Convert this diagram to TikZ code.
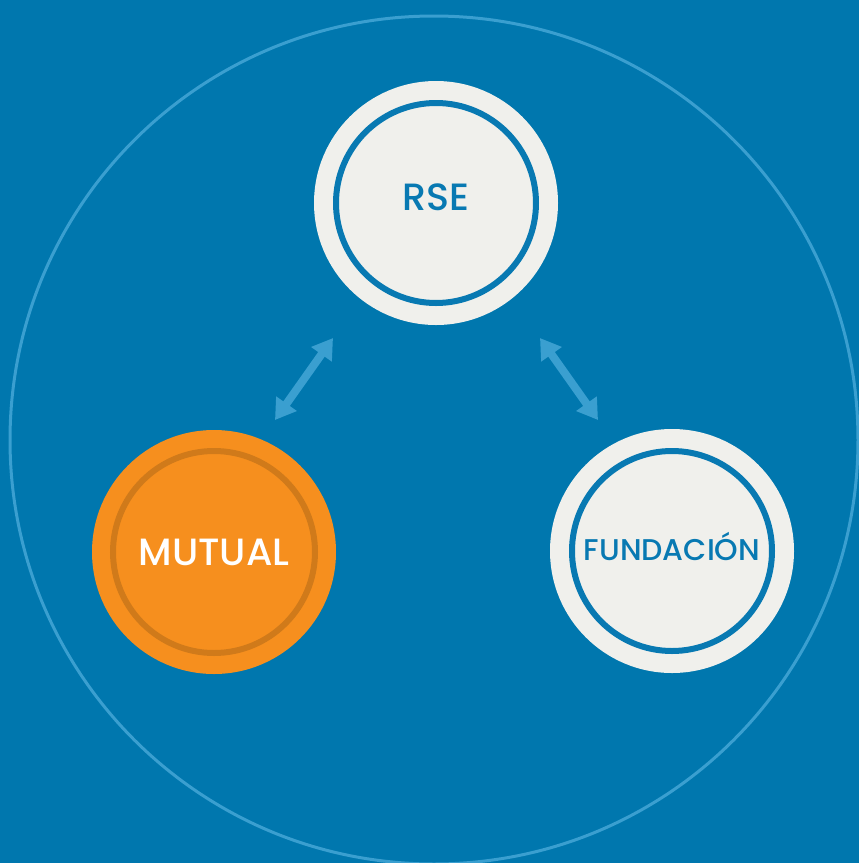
\documentclass[tikz,border=0pt]{standalone}
\usepackage{fontspec}
\setmainfont{Poppins Medium}
\usetikzlibrary{arrows.meta}

\definecolor{bgblue}{RGB}{0,119,174}
\definecolor{lineblue}{RGB}{58,159,208}
\definecolor{paper}{RGB}{240,240,236}
\definecolor{textblue}{RGB}{8,121,178}
\definecolor{mutualorange}{RGB}{246,143,30}
\definecolor{ringorange}{RGB}{208,122,26}

\tikzset{
  disc/.style={circle, fill=paper, minimum size=244, inner sep=0pt,
    text=textblue, font=\fontsize{38}{38}\selectfont},
  ring/.style={draw=textblue, line width=6},
  link/.style={draw=lineblue, line width=8,
    {Triangle[length=20, width=24]}-{Triangle[length=20, width=24]}}
}

\begin{document}
\begin{tikzpicture}[x=1pt, y=-1pt]
          % Background and outer circle
          \useasboundingbox (0,0) rectangle (859,863);
          \fill[bgblue] (0,0) rectangle (859,863);
          \draw[lineblue, line width=3] (434,440) circle[radius=424];

          % The three circles
          \node[disc, text depth=12pt] (rse) at (436,203) {RSE};
          \node[disc, fill=mutualorange, text=white] (mutual) at (214,552) {MUTUAL};
          \node[disc, text depth=9pt] (fundacion) at (672,551) {\fontsize{30}{30}\selectfont FUNDACIÓN};

          % Inner rings
          \draw[ring] (rse.center) circle[radius=100];
          \draw[ring, draw=ringorange] (mutual.center) circle[radius=101];
          \draw[ring] (fundacion.center) circle[radius=100];

          % Double arrows
          \coordinate (rse-left) at (333,338);
          \coordinate (mutual-top) at (275,420);
          \coordinate (rse-right) at (540,338);
          \coordinate (fundacion-top) at (598,420);
          \draw[link] (mutual-top) -- (rse-left);
          \draw[link] (rse-right) -- (fundacion-top);
        \end{tikzpicture}
\end{document}
